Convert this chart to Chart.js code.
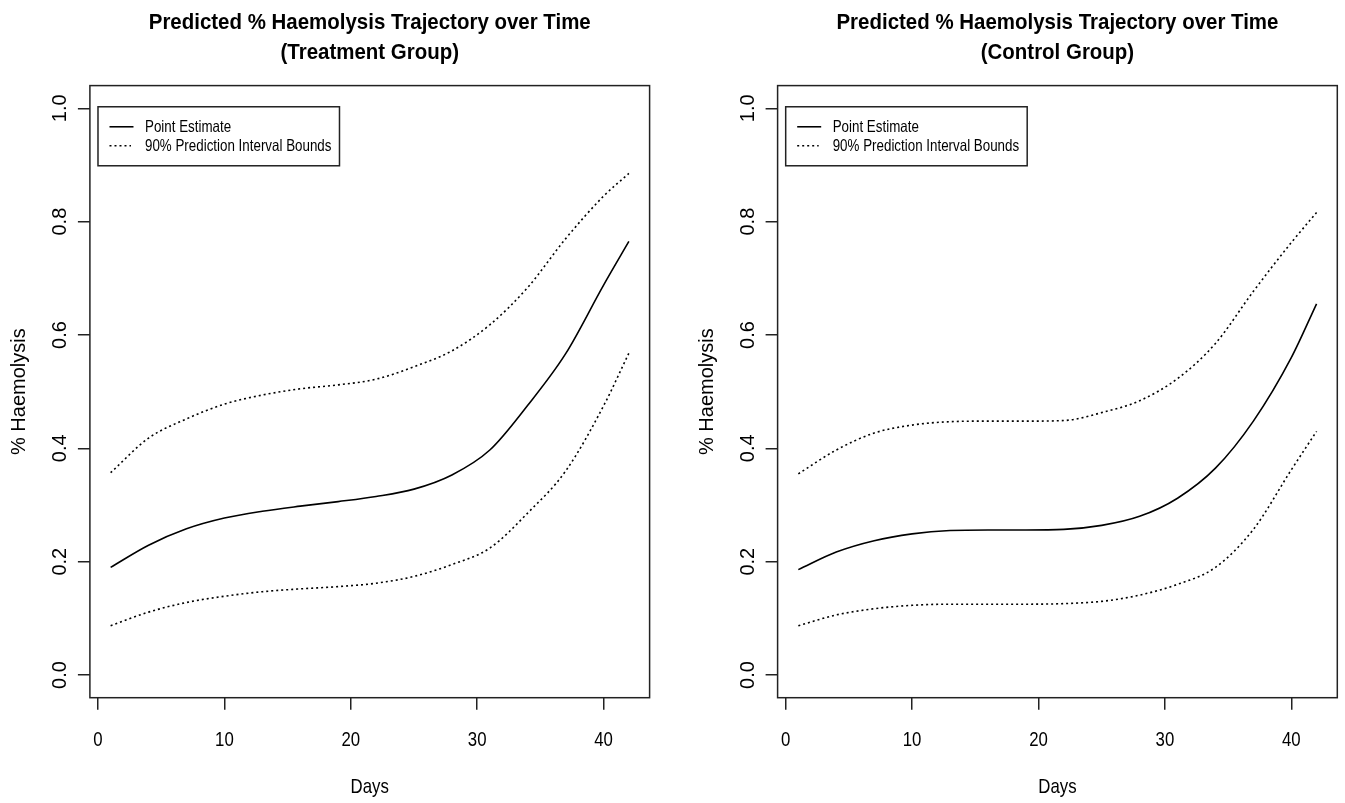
<!DOCTYPE html>
<html>
<head>
<meta charset="utf-8">
<script src="https://cdn.jsdelivr.net/npm/chart.js@4.4.1/dist/chart.umd.min.js"></script>
<style>
    html, body { margin: 0; padding: 0; background: #fff; overflow: hidden; }
    #treatChart { position: absolute; left: 0; top: 0; }
    #controlChart { position: absolute; left: 688px; top: 0; }
</style>
</head>
<body>
<canvas id="treatChart" width="672" height="803"></canvas>
<canvas id="controlChart" width="657" height="803"></canvas>
<script>
// values (days 1..42)
const days = [1, 4, 7, 10, 13, 16, 19, 22, 25, 28, 31, 34, 37, 40, 42];

const treatEstimate = [0.190, 0.229, 0.258, 0.277, 0.289, 0.298, 0.306, 0.315, 0.328, 0.353, 0.397, 0.476, 0.567, 0.688, 0.765];
const treatUpper    = [0.357, 0.418, 0.452, 0.478, 0.494, 0.505, 0.512, 0.522, 0.544, 0.572, 0.618, 0.684, 0.770, 0.845, 0.885];
const treatLower    = [0.087, 0.111, 0.128, 0.139, 0.147, 0.152, 0.156, 0.162, 0.174, 0.195, 0.224, 0.286, 0.360, 0.475, 0.568];

const ctrlEstimate = [0.186, 0.217, 0.237, 0.249, 0.255, 0.256, 0.256, 0.257, 0.264, 0.280, 0.312, 0.365, 0.448, 0.560, 0.655];
const ctrlUpper    = [0.355, 0.397, 0.427, 0.441, 0.447, 0.448, 0.448, 0.449, 0.463, 0.484, 0.523, 0.585, 0.677, 0.763, 0.816];
const ctrlLower    = [0.087, 0.106, 0.117, 0.123, 0.125, 0.125, 0.125, 0.126, 0.130, 0.141, 0.160, 0.190, 0.257, 0.362, 0.430];

const xTicks = [0, 10, 20, 30, 40];
const yTicks = [0, 0.2, 0.4, 0.6, 0.8, 1.0];

const mainTitle = 'Predicted % Haemolysis Trajectory over Time';
const FONT = '"Liberation Sans", Arial, sans-serif';

function toPoints(xs, ys) {
    return xs.map((d, i) => ({ x: d, y: ys[i] }));
}

// the reference text is squeezed sideways, so draw it with a horizontal scale
function squeezed(ctx, text, x, y, sx) {
    ctx.save();
    ctx.translate(x, y);
    ctx.scale(sx, 1);
    ctx.fillText(text, 0, 0);
    ctx.restore();
}

// R-style frame: box, titles, axis labels and the legend
const rFrame = {
    id: 'rFrame',
    afterDraw(chart, args, opts) {
        const ctx = chart.ctx;
        const area = chart.chartArea;
        const xs = chart.scales.x;
        const ys = chart.scales.y;
        ctx.save();

        // plot box
        ctx.strokeStyle = '#222';
        ctx.lineWidth = 1.5;
        ctx.setLineDash([]);
        ctx.strokeRect(area.left, area.top, area.right - area.left, area.bottom - area.top);

        // title
        const cx = (area.left + area.right) / 2;
        ctx.fillStyle = '#000';
        ctx.textAlign = 'center';
        ctx.textBaseline = 'alphabetic';
        ctx.font = 'bold 22px ' + FONT;
        squeezed(ctx, mainTitle, cx, 28.5, 0.93);
        squeezed(ctx, opts.subtitle, cx, 58.5, 0.93);

        // x tick labels and axis title
        ctx.font = '21px ' + FONT;
        xs.ticks.forEach(t => {
            squeezed(ctx, String(t.value), xs.getPixelForValue(t.value), 746, 0.8);
        });
        squeezed(ctx, 'Days', cx, 793, 0.8);

        // y tick labels, rotated like R's default
        ctx.font = '20px ' + FONT;
        ys.ticks.forEach(t => {
            ctx.save();
            ctx.translate(area.left - 24, ys.getPixelForValue(t.value));
            ctx.rotate(-Math.PI / 2);
            ctx.fillText(t.value.toFixed(1), 0, 0);
            ctx.restore();
        });

        // y axis title
        ctx.save();
        ctx.translate(area.left - 65, (area.top + area.bottom) / 2);
        ctx.rotate(-Math.PI / 2);
        ctx.fillText('% Haemolysis', 0, 0);
        ctx.restore();

        // legend anchored at (0, 1.0)
        const lx = xs.getPixelForValue(0);
        const ly = ys.getPixelForValue(1) - 1.5;
        ctx.strokeStyle = '#222';
        ctx.lineWidth = 1.5;
        ctx.strokeRect(lx, ly, 241.5, 59);
        const items = chart.data.datasets.slice(0, 2);
        items.forEach((ds, i) => {
            const rowY = ly + 20 + i * 19;
            ctx.strokeStyle = '#000';
            ctx.lineWidth = 1.6;
            ctx.setLineDash(ds.borderDash || []);
            ctx.beginPath();
            ctx.moveTo(lx + 11.5, rowY);
            ctx.lineTo(lx + (ds.borderDash ? 33 : 35.5), rowY);
            ctx.stroke();
            ctx.setLineDash([]);
            ctx.font = '16.5px ' + FONT;
            ctx.textAlign = 'left';
            ctx.textBaseline = 'middle';
            squeezed(ctx, ds.label, lx + 47, rowY + 1, 0.81);
        });
        ctx.restore();
    }
};

function makeChart(id, subtitle, est, upper, lower, padLeft, padRight) {
    const lineBase = { borderColor: '#000', borderWidth: 1.6, pointRadius: 0, cubicInterpolationMode: 'monotone', fill: false };
    return new Chart(document.getElementById(id), {
        type: 'line',
        data: {
            datasets: [
                Object.assign({ label: 'Point Estimate', data: toPoints(days, est) }, lineBase),
                Object.assign({ label: '90% Prediction Interval Bounds', data: toPoints(days, upper), borderDash: [2, 3] }, lineBase),
                Object.assign({ label: '90% Prediction Interval Bounds', data: toPoints(days, lower), borderDash: [2, 3] }, lineBase)
            ]
        },
        options: {
            responsive: false,
            animation: false,
            devicePixelRatio: 1,
            layout: { padding: { left: padLeft, right: padRight, top: 85.6, bottom: 0 } },
            plugins: {
                legend: { display: false },
                tooltip: { enabled: false },
                rFrame: { subtitle: subtitle }
            },
            scales: {
                x: {
                    type: 'linear',
                    min: -0.64,
                    max: 43.64,
                    afterBuildTicks: s => { s.ticks = xTicks.map(v => ({ value: v })); },
                    afterFit: s => { s.height = 105.3; },
                    border: { display: false },
                    grid: { drawOnChartArea: false, tickLength: 12, color: '#222', lineWidth: 1.5 },
                    ticks: { display: false }
                },
                y: {
                    type: 'linear',
                    min: -0.04,
                    max: 1.04,
                    afterBuildTicks: s => { s.ticks = yTicks.map(v => ({ value: v })); },
                    afterFit: s => { s.width = 40; },
                    border: { display: false },
                    grid: { drawOnChartArea: false, tickLength: 12, color: '#222', lineWidth: 1.5 },
                    ticks: { display: false }
                }
            }
        },
        plugins: [rFrame]
    });
}

makeChart('treatChart', '(Treatment Group)', treatEstimate, treatUpper, treatLower, 49.9, 22.4);
makeChart('controlChart', '(Control Group)', ctrlEstimate, ctrlUpper, ctrlLower, 49.6, 7.7);
</script>
</body>
</html>
